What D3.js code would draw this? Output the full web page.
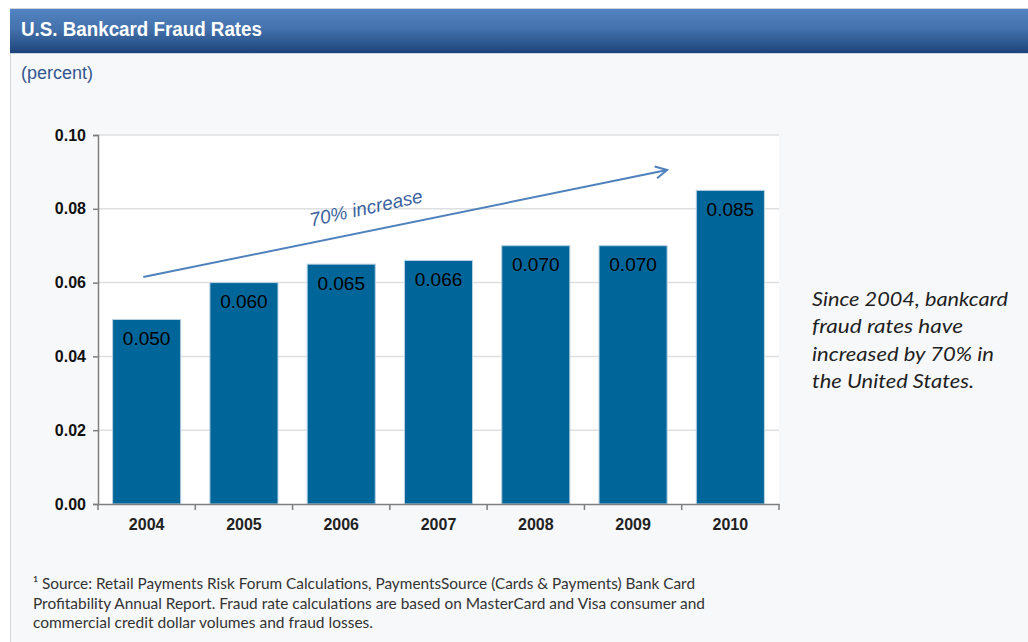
<!DOCTYPE html>
<html>
<head>
<meta charset="utf-8">
<script src="https://cdn.jsdelivr.net/npm/d3@7/dist/d3.min.js"></script>
<style>
  html, body { margin: 0; padding: 0; background: #ffffff; }
  svg { display: block; }
</style>
</head>
<body>
<svg id="chart" width="1028" height="642"></svg>
<script>
// ---- Data ----
const years = ["2004", "2005", "2006", "2007", "2008", "2009", "2010"];
const fraudRates = [0.050, 0.060, 0.065, 0.066, 0.070, 0.070, 0.085];
const valueLabels = ["0.050", "0.060", "0.065", "0.066", "0.070", "0.070", "0.085"];
const yTicks = [0.00, 0.02, 0.04, 0.06, 0.08, 0.10];
const titleText = "U.S. Bankcard Fraud Rates";
const unitText = "(percent)";
const arrowLabel = "70% increase";
const sideNote = ["Since 2004, bankcard", "fraud rates have", "increased by 70% in", "the United States."];
const footnote = [
  "\u00B9 Source: Retail Payments Risk Forum Calculations, PaymentsSource (Cards & Payments) Bank Card",
  "Profitability Annual Report.  Fraud rate calculations are based on MasterCard and Visa consumer and",
  "commercial credit dollar volumes and fraud losses."
];

const svg = d3.select("#chart");
const W = 1028, H = 642;

// ---- Panel background & header ----
const defs = svg.append("defs");
const grad = defs.append("linearGradient").attr("id", "hdr").attr("x1", 0).attr("y1", 0).attr("x2", 0).attr("y2", 1);
grad.append("stop").attr("offset", "0%").attr("stop-color", "#5184c2");
grad.append("stop").attr("offset", "45%").attr("stop-color", "#4472ad");
grad.append("stop").attr("offset", "100%").attr("stop-color", "#1d4479");

svg.append("rect").attr("x", 0).attr("y", 0).attr("width", W).attr("height", H).attr("fill", "#ffffff");
svg.append("rect").attr("x", 10).attr("y", 53).attr("width", W - 10).attr("height", H - 53).attr("fill", "#f7f8fa");
svg.append("line").attr("x1", 10.5).attr("x2", 10.5).attr("y1", 8).attr("y2", H).attr("stroke", "#d4d6da").attr("stroke-width", 1);
svg.append("line").attr("x1", 10).attr("x2", W).attr("y1", 8.5).attr("y2", 8.5).attr("stroke", "#d0d3d8").attr("stroke-width", 1);
svg.append("rect").attr("x", 10).attr("y", 9).attr("width", W - 10).attr("height", 44).attr("fill", "url(#hdr)");
svg.append("line").attr("x1", 10).attr("x2", W).attr("y1", 53.5).attr("y2", 53.5).attr("stroke", "#c9d3e2").attr("stroke-width", 1);

svg.append("text")
  .attr("x", 21).attr("y", 36)
  .attr("font-family", "Liberation Sans, Arial, sans-serif")
  .attr("font-size", 20).attr("font-weight", "bold")
  .attr("textLength", 241).attr("lengthAdjust", "spacingAndGlyphs")
  .attr("fill", "#ffffff")
  .text(titleText);

svg.append("text")
  .attr("x", 21).attr("y", 79)
  .attr("font-family", "Liberation Sans, Arial, sans-serif")
  .attr("font-size", 18)
  .attr("fill", "#34568e")
  .text(unitText);

// ---- Chart ----
const plot = { left: 98, right: 779, top: 135, bottom: 504 };

const x = d3.scaleBand().domain(years).range([plot.left, plot.right]).paddingInner(0.3).paddingOuter(0.15);
const y = d3.scaleLinear().domain([0, 0.10]).range([plot.bottom, plot.top]);

svg.append("rect")
  .attr("x", plot.left).attr("y", plot.top)
  .attr("width", plot.right - plot.left).attr("height", plot.bottom - plot.top)
  .attr("fill", "#ffffff");

// gridlines
svg.append("g").selectAll("line").data(yTicks.filter(d => d > 0)).join("line")
  .attr("x1", plot.left).attr("x2", plot.right)
  .attr("y1", d => y(d)).attr("y2", d => y(d))
  .attr("stroke", "#dedfe1").attr("stroke-width", 1.5);

// bars
const data = years.map((yr, i) => ({ year: yr, value: fraudRates[i], label: valueLabels[i] }));
svg.append("g").selectAll("rect").data(data).join("rect")
  .attr("x", d => x(d.year))
  .attr("y", d => y(d.value))
  .attr("width", x.bandwidth())
  .attr("height", d => y(0) - y(d.value))
  .attr("fill", "#006699")
  .attr("stroke", "#b9d2e3").attr("stroke-width", 1);

svg.append("g").selectAll("text").data(data).join("text")
  .attr("x", d => x(d.year) + x.bandwidth() / 2)
  .attr("y", d => y(d.value) + 25.5)
  .attr("text-anchor", "middle")
  .attr("font-family", "Liberation Sans, Arial, sans-serif")
  .attr("font-size", 19)
  .attr("fill", "#000000")
  .text(d => d.label);

// y axis
const yAxis = d3.axisLeft(y).tickValues(yTicks).tickFormat(d3.format(".2f")).tickSize(5).tickPadding(7);
const gy = svg.append("g").attr("transform", `translate(${plot.left},0)`).call(yAxis);
gy.select(".domain").attr("stroke", "#7f7f7f").attr("stroke-width", 1.5);
gy.selectAll(".tick line").attr("stroke", "#7f7f7f").attr("stroke-width", 1.5);
gy.selectAll(".tick text")
  .attr("font-family", "Liberation Sans, Arial, sans-serif")
  .attr("font-size", 16).attr("font-weight", "bold").attr("fill", "#111");

// x axis
const xAxis = d3.axisBottom(x).tickSize(0).tickPadding(15);
const gx = svg.append("g").attr("transform", `translate(0,${plot.bottom})`).call(xAxis);
gx.select(".domain").attr("stroke", "#7f7f7f").attr("stroke-width", 1.5);
gx.selectAll(".tick text")
  .attr("font-family", "Liberation Sans, Arial, sans-serif")
  .attr("font-size", 16).attr("font-weight", "bold").attr("fill", "#222");
// category boundary ticks
const step = x.step();
const bounds = d3.range(years.length + 1).map(i => plot.left + i * step);
svg.append("g").selectAll("line").data(bounds).join("line")
  .attr("x1", d => d).attr("x2", d => d)
  .attr("y1", plot.bottom).attr("y2", plot.bottom + 6)
  .attr("stroke", "#7f7f7f").attr("stroke-width", 1.5);

// ---- Trend arrow annotation ----
const ax1 = x("2004") + x.bandwidth() * 0.45, ay1 = y(0.0615);
const ax2 = x("2009") + x.bandwidth(), ay2 = y(0.0905);
const arrowColor = "#4f81bd";
svg.append("line")
  .attr("x1", ax1).attr("y1", ay1).attr("x2", ax2).attr("y2", ay2)
  .attr("stroke", arrowColor).attr("stroke-width", 2);
const ang = Math.atan2(ay2 - ay1, ax2 - ax1);
const headLen = 13, headAng = Math.PI / 6.5;
const headPath = d3.path();
headPath.moveTo(ax2 - headLen * Math.cos(ang - headAng), ay2 - headLen * Math.sin(ang - headAng));
headPath.lineTo(ax2, ay2);
headPath.lineTo(ax2 - headLen * Math.cos(ang + headAng), ay2 - headLen * Math.sin(ang + headAng));
svg.append("path").attr("d", headPath.toString())
  .attr("fill", "none").attr("stroke", arrowColor).attr("stroke-width", 2)
  .attr("stroke-linejoin", "miter");

const lx = x("2006") + 4, ly = y(0.0752);
svg.append("text")
  .attr("transform", `translate(${lx},${ly}) rotate(-12.3)`)
  .attr("font-family", "Liberation Sans, Arial, sans-serif")
  .attr("font-size", 19).attr("font-style", "italic")
  .attr("fill", "#3b62a0")
  .text(arrowLabel);

// ---- Side note ----
const noteWidths = [196, 151, 182, 162];
svg.append("g").selectAll("text").data(sideNote).join("text")
  .attr("x", 812)
  .attr("y", (d, i) => 306 + i * 27.4)
  .attr("font-family", "Lato, 'Open Sans', sans-serif")
  .attr("font-size", 20).attr("font-style", "italic")
  .attr("fill", "#1f1f1f")
  .attr("textLength", (d, i) => noteWidths[i]).attr("lengthAdjust", "spacingAndGlyphs")
  .text(d => d);

// ---- Footnote ----
const footWidths = [662, 672, 340];
svg.append("g").selectAll("text").data(footnote).join("text")
  .attr("x", 33)
  .attr("y", (d, i) => 589 + i * 19.5)
  .attr("font-family", "Lato, 'Open Sans', sans-serif")
  .attr("font-size", 15)
  .attr("fill", "#333333")
  .attr("textLength", (d, i) => footWidths[i]).attr("lengthAdjust", "spacingAndGlyphs")
  .text(d => d);
</script>
</body>
</html>
